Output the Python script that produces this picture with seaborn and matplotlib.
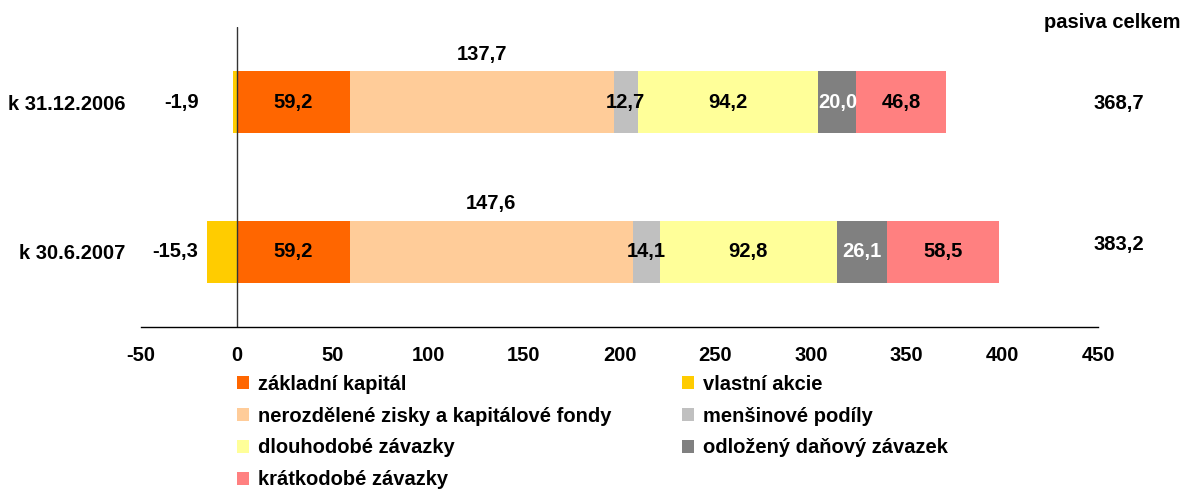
import numpy as np
import pandas as pd
import matplotlib
matplotlib.use('Agg')
import matplotlib.pyplot as plt
import seaborn as sns
from matplotlib.patches import Patch

# data (mld. Kč)
periods = ['k 31.12.2006', 'k 30.6.2007']
zakladni = [59.2, 59.2]
vlastni_akcie = [-1.9, -15.3]
nerozdelene = [137.7, 147.6]
mensinove = [12.7, 14.1]
dlouhodobe = [94.2, 92.8]
odlozeny = [20.0, 26.1]
kratkodobe = [46.8, 58.5]
celkem = [368.7, 383.2]

names = ['základní kapitál', 'nerozdělené zisky a kapitálové fondy', 'menšinové podíly',
         'dlouhodobé závazky', 'odložený daňový závazek', 'krátkodobé závazky']
colors = ['#FF6600', '#FFCC99', '#C0C0C0', '#FFFF99', '#808080', '#FF8080']
neg_name = 'vlastní akcie'
neg_color = '#FFCC00'

sns.set_style('white')
plt.rcParams['font.family'] = ['Liberation Sans', 'DejaVu Sans']
plt.rcParams['font.weight'] = 'bold'
plt.rcParams['font.size'] = 14.5
plt.rcParams['text.color'] = 'black'
plt.rcParams['xtick.color'] = 'black'
plt.rcParams['ytick.color'] = 'black'
plt.rcParams['axes.unicode_minus'] = False

FS = 14.5


def fmt(v):
    return f'{v:.1f}'.replace('.', ',')


segs = pd.DataFrame(dict(zip(names, [zakladni, nerozdelene, mensinove, dlouhodobe, odlozeny, kratkodobe])),
                    index=periods)
right = segs.cumsum(axis=1)
left = right - segs

fig = plt.figure(figsize=(11.85, 4.93), dpi=100)
ax = fig.add_axes([0.119, 0.337, 0.8076, 0.608])

# layered stacking: draw the longest cumulative bar first
for name, col in reversed(list(zip(names, colors))):
    sns.barplot(x=right[name].values, y=periods, color=col, orient='h', width=0.41,
                saturation=1, linewidth=0, ax=ax)
sns.barplot(x=vlastni_akcie, y=periods, color=neg_color, orient='h', width=0.41,
            saturation=1, linewidth=0, ax=ax)

ax.set_xlim(-50, 450)
ax.set_ylim(1.5, -0.5)
ax.set_xticks(np.arange(-50, 451, 50))
ax.set_xlabel('')
ax.set_ylabel('')
ax.axvline(0, color='#333333', lw=1)
for s in ['top', 'right', 'left']:
    ax.spines[s].set_visible(False)
ax.spines['bottom'].set_color('black')
ax.spines['bottom'].set_linewidth(1)
ax.tick_params(axis='x', direction='out', length=5, width=1, color='black', pad=9, labelsize=FS)
ax.tick_params(axis='y', length=0, pad=11, labelsize=FS)
for t in ax.get_xticklabels() + ax.get_yticklabels():
    t.set_fontweight('bold')

total_dy = [0.013, -0.047]
for i in range(len(periods)):
    for name in names:
        v = segs.loc[periods[i], name]
        xc = left.loc[periods[i], name] + v / 2
        if name.startswith('nerozdělené'):
            ax.text(xc, i - 0.32, fmt(v), ha='center', va='center', fontsize=FS, fontweight='bold')
        else:
            c = 'white' if name.startswith('odložený') else 'black'
            ax.text(xc, i, fmt(v), ha='center', va='center', fontsize=FS, fontweight='bold', color=c)
    ax.text(-20, i, fmt(vlastni_akcie[i]), ha='right', va='center', fontsize=FS, fontweight='bold')
    ax.text(461, i + total_dy[i], fmt(celkem[i]), ha='center', va='center', fontsize=FS,
            fontweight='bold', clip_on=False)

fig.text(1112 / 1185, 1 - 22 / 493, 'pasiva celkem', ha='center', va='center',
         fontsize=FS, fontweight='bold')

order = [names[0], names[1], names[3], names[5], neg_name, names[2], names[4]]
cmap = dict(zip(names, colors))
cmap[neg_name] = neg_color
handles = [Patch(facecolor=cmap[n], edgecolor='none', label=n) for n in order]
leg = fig.legend(handles=handles, loc='upper left', bbox_to_anchor=(0.2, 0.24), ncol=2,
                 frameon=False, fontsize=FS, handlelength=0.6, handleheight=0.65,
                 handletextpad=0.45, labelspacing=0.64, columnspacing=3.5, borderaxespad=0,
                 borderpad=0)
for t in leg.get_texts():
    t.set_fontweight('bold')

fig.savefig('out.png', dpi=100)
